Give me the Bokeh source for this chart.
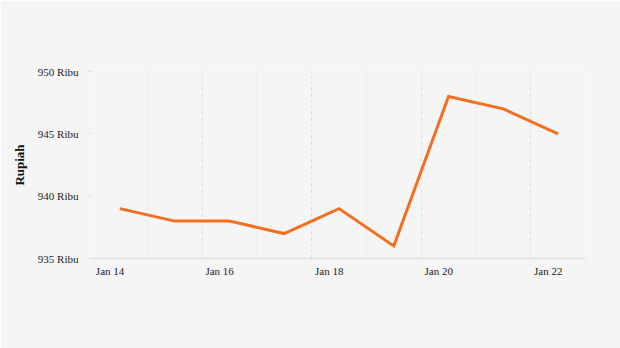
from datetime import datetime
from bokeh.plotting import figure
from bokeh.models import FixedTicker, DatetimeTickFormatter, PrintfTickFormatter, Range1d
from bokeh.embed import file_html
from bokeh.resources import INLINE

dates = ["2024-01-14 12:00", "2024-01-15 12:00", "2024-01-16 12:00", "2024-01-17 12:00",
         "2024-01-18 12:00", "2024-01-19 12:00", "2024-01-20 12:00", "2024-01-21 12:00",
         "2024-01-22 12:00"]
values = [939, 938, 938, 937, 939, 936, 948, 947, 945]
major_days = ["2024-01-14", "2024-01-16", "2024-01-18", "2024-01-20", "2024-01-22"]
minor_days = ["2024-01-15", "2024-01-17", "2024-01-19", "2024-01-21", "2024-01-23"]
y_ticks = [935, 940, 945, 950]
x_start, x_end = "2024-01-14", "2024-01-23"

def ms(s):
    fmt = "%Y-%m-%d %H:%M" if " " in s else "%Y-%m-%d"
    return (datetime.strptime(s, fmt) - datetime(1970, 1, 1)).total_seconds() * 1000

xs = [ms(d) for d in dates]
# labels sit left-aligned just right of each tick: shift their anchor by ~7.7 h
LABEL_SHIFT = 7.7 * 3600 * 1000

BG = "#f5f5f5"
p = figure(width=620, height=348, output_backend="svg", toolbar_location=None,
           x_axis_type="datetime",
           x_range=Range1d(ms(x_start), ms(x_end)), y_range=Range1d(935, 950),
           background_fill_color=BG, border_fill_color=BG,
           min_border_left=92, min_border_right=35, min_border_top=71, min_border_bottom=90)
p.outline_line_color = None

p.line(xs, values, line_color="#f26f21", line_width=3, line_join="miter")

p.xaxis.ticker = FixedTicker(ticks=[ms(d) + LABEL_SHIFT for d in major_days])
p.xaxis.formatter = DatetimeTickFormatter(days="%b %d", months="%b %d", hours="%b %d")
p.xaxis.major_label_standoff = 6
p.xaxis.major_label_text_font = "Liberation Serif"
p.xaxis.major_label_text_font_size = "11px"
p.xaxis.major_label_text_color = "#222222"
p.xaxis.axis_line_color = "#e6e6e6"
p.xaxis.axis_line_width = 2
p.xaxis.major_tick_line_color = None
p.xaxis.major_tick_out = 0
p.xaxis.major_tick_in = 0
p.xaxis.minor_tick_line_color = None

p.xgrid.ticker = FixedTicker(ticks=[ms(d) for d in major_days],
                             minor_ticks=[ms(d) for d in minor_days])

p.yaxis.ticker = FixedTicker(ticks=y_ticks)
p.yaxis.formatter = PrintfTickFormatter(format="%d Ribu")
p.yaxis.major_label_text_font = "Liberation Serif"
p.yaxis.major_label_text_font_size = "11px"
p.yaxis.major_label_text_color = "#222222"
p.yaxis.major_label_standoff = 8
p.yaxis.axis_line_color = None
p.yaxis.major_tick_line_color = "#e6e6e6"
p.yaxis.major_tick_out = 6
p.yaxis.major_tick_in = 0
p.yaxis.minor_tick_line_color = None
p.yaxis.axis_label = "Rupiah"
p.yaxis.axis_label_text_font = "Liberation Serif"
p.yaxis.axis_label_text_font_size = "13px"
p.yaxis.axis_label_text_font_style = "bold"
p.yaxis.axis_label_text_color = "#111111"
p.yaxis.axis_label_standoff = 8

p.ygrid.grid_line_color = None
p.xgrid.grid_line_color = "#dcdcdc"
p.xgrid.grid_line_dash = "3 3"
p.xgrid.grid_line_width = 1
p.xgrid.minor_grid_line_color = "#e8e8e8"
p.xgrid.minor_grid_line_dash = "3 3"

open("out.html", "w").write(file_html(p, INLINE))
